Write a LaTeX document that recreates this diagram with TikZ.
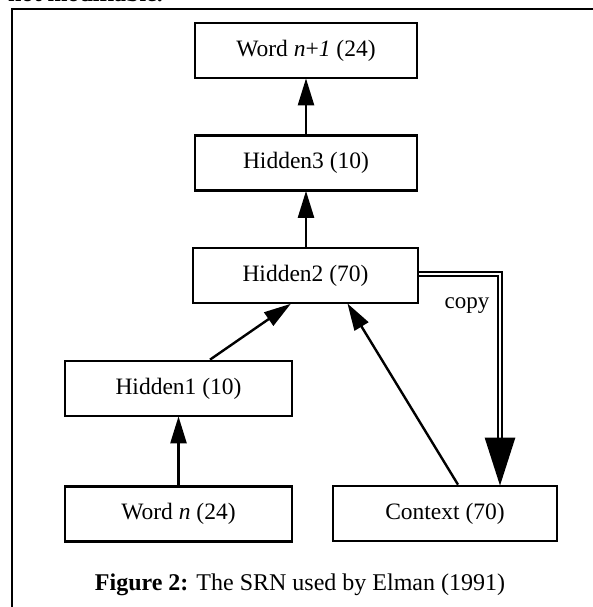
\documentclass[tikz,border=0pt]{standalone}
\usepackage{fontspec}
\setmainfont{Liberation Serif}
\usetikzlibrary{arrows.meta}
\begin{document}
\begin{tikzpicture}[x=1pt,y=-1pt,
  layer/.style={draw, line width=2.7pt, minimum width=#1, minimum height=55pt, inner sep=0pt, font=\fontsize{23.5}{27}\selectfont},
  feed/.style={line width=2.4pt, -{Triangle[length=27pt,width=16pt]}, shorten >=-1pt},
  copyline/.style={double, double distance=1.1pt, line width=2.6pt, -{Triangle[length=48pt,width=30pt]}, shorten >=-1pt}]
\useasboundingbox (0,0) rectangle (593,607);
\begin{scope}
\clip (0,0) rectangle (593,607);
\node[anchor=base west, font=\fontsize{24}{28}\bfseries\selectfont, inner sep=0pt] (top) at (8,2) {not modifiable.};
\draw[line width=2.6pt] (12,640) -- (12,9) -- (620,9);
\end{scope}
\node[layer=222pt] (wn1) at (306,50.5) {Word \textit{n}+\textit{1} (24)};
\node[layer=222pt] (h3) at (306,163) {Hidden3 (10)};
\node[layer=225pt] (h2) at (305.5,275.5) {Hidden2 (70)};
\node[layer=227pt] (h1) at (178.5,388.5) {Hidden1 (10)};
\node[layer=227pt] (wn) at (178.5,514) {Word \textit{n} (24)};
\node[layer=224pt] (ctx) at (445,513.5) {Context (70)};
\draw[feed] (h3.north -| wn1) -- (wn1.south);
\draw[feed] (h2.north -| h3) -- (h3.south);
\draw[feed] (wn.north) -- (h1.south);
\draw[feed] (h1.north -| 210,0) -- (h2.south -| 290,0);
\draw[feed] (ctx.north -| 458,0) -- (h2.south -| 348,0);
\coordinate (cc) at (500,274);
\draw[copyline] (h2.east |- cc) -- (cc) -- (ctx.north -| cc);
\node[font=\fontsize{23}{27}\selectfont] (copy) at (467,306) {copy};
\node[font=\fontsize{24}{28}\selectfont] (cap) at (300,585) {\textbf{Figure 2:} The SRN used by Elman (1991)};
\end{tikzpicture}
\end{document}
